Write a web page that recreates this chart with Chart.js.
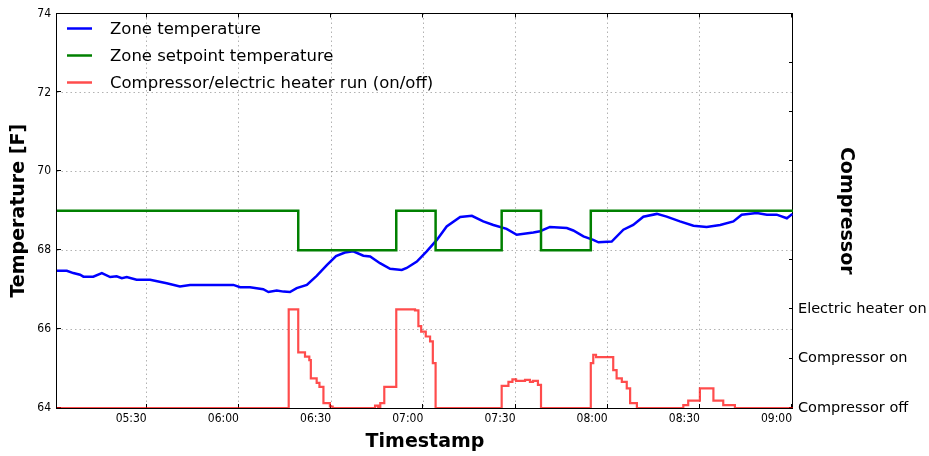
<!DOCTYPE html>
<html>
<head>
<meta charset="utf-8">
<script src="https://cdn.jsdelivr.net/npm/chart.js@4.4.0/dist/chart.umd.min.js"></script>
<style>
  html, body { margin: 0; padding: 0; background: #fff; }
  canvas { display: block; }
</style>
</head>
<body>
<canvas id="chart" width="929" height="456"></canvas>
<script>
// x axis tick labels
const timeTicks = ['05:30', '06:00', '06:30', '07:00', '07:30', '08:00', '08:30', '09:00'];

// right axis labels (compressor state)
const stateLabels = ['Compressor off', 'Compressor on', 'Electric heater on'];

// zone temperature [F]
const zoneTime = ['05:00:00', '05:04:00', '05:06:06', '05:08:18', '05:09:24', '05:12:36', '05:15:24', '05:18:06',
  '05:20:12', '05:21:54', '05:23:30', '05:26:42', '05:31:06', '05:36:30', '05:40:48', '05:44:06', '05:52:48',
  '05:58:12', '06:00:24', '06:03:36', '06:07:54', '06:09:36', '06:12:18', '06:14:30', '06:16:36', '06:18:48',
  '06:22:06', '06:25:18', '06:28:36', '06:31:36', '06:34:30', '06:37:12', '06:40:30', '06:42:42', '06:45:54',
  '06:49:12', '06:53:00', '06:54:36', '06:57:54', '07:01:06', '07:04:24', '07:07:36', '07:12:00', '07:15:48',
  '07:19:30', '07:22:48', '07:27:06', '07:30:24', '07:35:48', '07:38:00', '07:41:12', '07:46:42', '07:48:48',
  '07:52:06', '07:55:18', '07:57:00', '08:01:18', '08:05:06', '08:08:18', '08:11:36', '08:16:00', '08:19:12',
  '08:23:30', '08:27:54', '08:32:12', '08:36:36', '08:40:54', '08:43:36', '08:48:30', '08:51:48', '08:55:00',
  '08:58:18', '09:00:06'];
const zoneTemp = [67.48, 67.48, 67.42, 67.38, 67.33, 67.33, 67.42, 67.32,
  67.34, 67.29, 67.32, 67.25, 67.25, 67.16, 67.08, 67.12, 67.12,
  67.12, 67.06, 67.06, 67.01, 66.94, 66.98, 66.95, 66.94, 67.04,
  67.12, 67.35, 67.62, 67.85, 67.94, 67.97, 67.86, 67.84, 67.67,
  67.53, 67.50, 67.55, 67.71, 67.97, 68.26, 68.60, 68.84, 68.87,
  68.73, 68.64, 68.54, 68.39, 68.45, 68.48, 68.59, 68.56, 68.50,
  68.35, 68.26, 68.20, 68.22, 68.52, 68.64, 68.85, 68.92, 68.85,
  68.73, 68.62, 68.59, 68.64, 68.73, 68.90, 68.94, 68.90, 68.90,
  68.81, 68.92];

// zone setpoint [F], value holds from each time on
const setpointTime = ['05:00:00', '06:19:18', '06:51:12', '07:04:00', '07:25:30', '07:38:18', '07:54:30', '09:05:00'];
const setpointTemp = [69, 68, 69, 68, 69, 68, 69, 69];

// compressor / heater run (0 = off, 1 = compressor, 2 = heater), averaged
const runTime = ['05:00:00', '06:16:12', '06:19:18', '06:21:30', '06:22:54', '06:23:24', '06:25:18', '06:26:12',
  '06:27:30', '06:29:36', '06:30:30', '06:44:18', '06:45:18', '06:46:00', '06:47:18', '06:51:12', '06:57:18',
  '06:58:24', '06:59:18', '07:00:48', '07:02:12', '07:03:06', '07:04:00', '07:25:30', '07:27:42', '07:29:00',
  '07:30:12', '07:33:06', '07:34:42', '07:35:42', '07:37:18', '07:38:18', '07:54:30', '07:55:18', '07:56:12',
  '08:01:48', '08:02:54', '08:04:36', '08:06:12', '08:07:18', '08:09:30', '08:24:36', '08:26:12', '08:30:00',
  '08:34:24', '08:37:36', '08:41:24', '09:05:00'];
const runState = [0, 2, 1.13, 1.04, 0.97, 0.60, 0.51, 0.43,
  0.10, 0.03, 0, 0.05, 0, 0.10, 0.43, 2, 1.98,
  1.66, 1.55, 1.45, 1.35, 0.91, 0, 0.45, 0.53, 0.58,
  0.55, 0.57, 0.53, 0.55, 0.47, 0, 0.91, 1.08, 1.03,
  0.77, 0.60, 0.53, 0.40, 0.10, 0, 0.06, 0.15, 0.40,
  0.15, 0.06, 0, 0];

// "HH:MM(:SS)" -> minutes since midnight
function toMin(s) {
  const p = s.split(':').map(Number);
  return p[0] * 60 + p[1] + (p[2] || 0) / 60;
}
function fmtMin(v) {
  const h = Math.floor(v / 60), m = Math.round(v - h * 60);
  return String(h).padStart(2, '0') + ':' + String(m).padStart(2, '0');
}
function points(times, values) {
  return times.map((t, i) => ({ x: toMin(t), y: values[i] }));
}

const tickFont = { family: '"DejaVu Sans Condensed", "DejaVu Sans", sans-serif', size: 12 };
const titleFont = { family: '"DejaVu Sans", sans-serif', size: 19, weight: 'bold' };
const gridStyle = { color: 'rgba(0,0,0,0.3)', lineWidth: 1, drawTicks: false };

// black box round the plot plus inward tick marks, like matplotlib
// (drawn under the lines so the red baseline sits on the bottom spine)
const framePlugin = {
  id: 'frame',
  beforeDatasetsDraw(chart) {
    const { ctx, chartArea: a, scales } = chart;
    ctx.save();
    ctx.strokeStyle = '#000';
    ctx.lineWidth = 1;
    ctx.beginPath();
    scales.x.ticks.forEach(t => {
      const px = Math.round(scales.x.getPixelForValue(t.value)) - 0.5;
      ctx.moveTo(px, a.bottom); ctx.lineTo(px, a.bottom - 4);
      ctx.moveTo(px, a.top); ctx.lineTo(px, a.top + 4);
    });
    scales.y.ticks.forEach(t => {
      const py = Math.round(scales.y.getPixelForValue(t.value)) - 0.5;
      ctx.moveTo(a.left, py); ctx.lineTo(a.left + 4, py);
    });
    scales.y1.ticks.forEach(t => {
      const py = Math.round(scales.y1.getPixelForValue(t.value)) - 0.5;
      ctx.moveTo(a.right, py); ctx.lineTo(a.right - 4, py);
    });
    ctx.stroke();
    ctx.strokeRect(Math.round(a.left) - 0.5, Math.round(a.top) - 0.5,
      Math.round(a.right) - Math.round(a.left), Math.round(a.bottom) - Math.round(a.top) + 1);
    ctx.restore();
  }
};

// legend drawn inside the plot, top left, without a frame
const legendPlugin = {
  id: 'innerLegend',
  afterDraw(chart) {
    const { ctx, chartArea: a } = chart;
    ctx.save();
    ctx.font = '16.5px "DejaVu Sans", sans-serif';
    ctx.textBaseline = 'middle';
    ctx.fillStyle = '#000';
    chart.data.datasets.forEach((ds, i) => {
      const y = a.top + 15 + i * 27;
      ctx.strokeStyle = ds.borderColor;
      ctx.lineWidth = 2.5;
      ctx.beginPath();
      ctx.moveTo(a.left + 10, y);
      ctx.lineTo(a.left + 35, y);
      ctx.stroke();
      ctx.fillText(ds.label, a.left + 53, y + 1);
    });
    ctx.restore();
  }
};

const chart = new Chart(document.getElementById('chart').getContext('2d'), {
  type: 'line',
  data: {
    datasets: [{
      label: 'Zone temperature',
      data: points(zoneTime, zoneTemp),
      borderColor: '#0000ff',
      borderWidth: 2.5,
      yAxisID: 'y',
      order: 3
    }, {
      label: 'Zone setpoint temperature',
      data: points(setpointTime, setpointTemp),
      borderColor: '#008000',
      borderWidth: 2.5,
      stepped: 'before',
      yAxisID: 'y',
      order: 2
    }, {
      label: 'Compressor/electric heater run (on/off)',
      data: points(runTime, runState),
      borderColor: 'rgba(255,0,0,0.7)',
      borderWidth: 2.2,
      stepped: 'before',
      yAxisID: 'y1',
      order: 1
    }]
  },
  options: {
    responsive: false,
    animation: false,
    devicePixelRatio: 1,
    layout: { padding: { top: 13.5, left: 0, right: 0, bottom: 0 } },
    elements: { point: { radius: 0 }, line: { tension: 0 } },
    plugins: { legend: { display: false }, tooltip: { enabled: false } },
    scales: {
      x: {
        type: 'linear',
        min: 300.8,
        max: 540.3,
        afterBuildTicks: s => { s.ticks = timeTicks.map(t => ({ value: toMin(t) })); },
        afterFit: s => { s.height = 48; s.paddingLeft = 0; s.paddingRight = 0; },
        ticks: { align: 'end', autoSkip: false, maxRotation: 0, padding: 4, font: tickFont, color: '#000',
          callback: v => fmtMin(v) },
        grid: gridStyle,
        border: { display: false, dash: [1.5, 3] },
        title: { display: true, text: 'Timestamp', font: titleFont, color: '#000', padding: { top: 0, bottom: 3 } }
      },
      y: {
        position: 'left',
        min: 64,
        max: 74,
        afterFit: s => { s.width = 57; s.paddingTop = 0; s.paddingBottom = 0; },
        ticks: { stepSize: 2, padding: 6, font: tickFont, color: '#000' },
        grid: gridStyle,
        border: { display: false, dash: [1.5, 3] },
        title: { display: true, text: 'Temperature [F]', font: titleFont, color: '#000', padding: { top: 7.6, bottom: 0 } }
      },
      y1: {
        position: 'right',
        min: 0,
        max: 8,
        afterFit: s => { s.width = 136; s.paddingTop = 0; s.paddingBottom = 0; },
        ticks: { stepSize: 1, padding: 5, autoSkip: false, color: '#000',
          font: { family: '"DejaVu Sans", sans-serif', size: 14.5 },
          callback: v => stateLabels[v] || '' },
        grid: { display: false, drawTicks: false },
        border: { display: false },
        title: { display: true, text: 'Compressor', font: titleFont, color: '#000', padding: { top: 71.6, bottom: 0 } }
      }
    }
  },
  plugins: [framePlugin, legendPlugin]
});
</script>
</body>
</html>
